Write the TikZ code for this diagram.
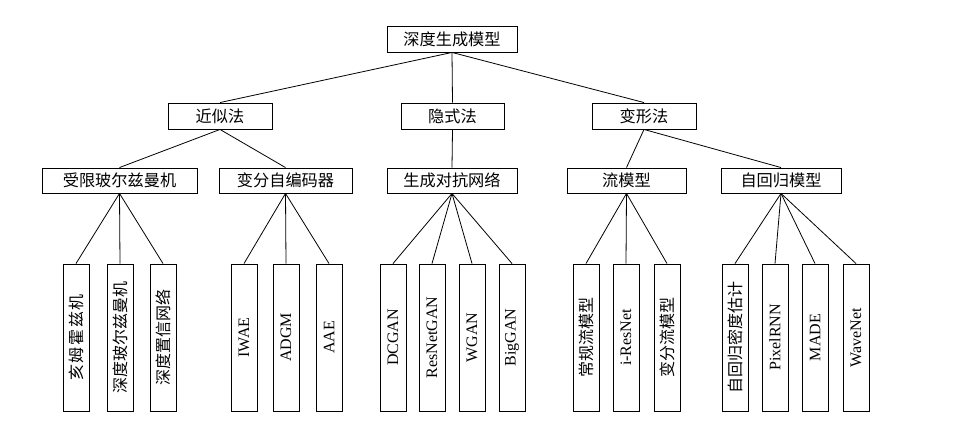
\documentclass[tikz,border=0pt]{standalone}
\usepackage{fontspec}
\setmainfont{Liberation Serif}
\newfontfamily\cjk{Noto Sans CJK SC}
\begin{document}
\begin{tikzpicture}[x=1pt,y=-1pt,
  box/.style={draw,line width=0.9pt,inner sep=0pt,minimum height=26pt,font=\cjk\fontsize{16.2}{18}\selectfont},
  midbox/.style={box,minimum height=25pt},
  leaf/.style={draw,line width=0.9pt,inner sep=0pt,minimum width=147pt,minimum height=26pt,rotate=90,font=\fontsize{16}{19}\selectfont},
  cleaf/.style={leaf,font=\cjk\fontsize{16}{18}\selectfont},
  link/.style={line width=0.8pt}]
\useasboundingbox (0,0) rectangle (969,427);
% level 1
\node[box,minimum width=130pt] (root) at (452,39) {深度生成模型};
% level 2
\node[box,minimum width=104pt] (approx) at (220,116) {近似法};
\node[box,minimum width=103pt] (implicit) at (452.5,116) {隐式法};
\node[box,minimum width=104pt] (deform) at (644,116) {变形法};
% level 3
\node[midbox,minimum width=155pt] (rbm) at (119.5,180.5) {受限玻尔兹曼机};
\node[midbox,minimum width=133pt] (vae) at (285.5,180.5) {变分自编码器};
\node[midbox,minimum width=130pt] (gan) at (452,180.5) {生成对抗网络};
\node[midbox,minimum width=119pt] (flow) at (626.5,180.5) {流模型};
\node[midbox,minimum width=120pt] (ar) at (781,180.5) {自回归模型};
% leaves
\node[cleaf] (l1) at (76,337.5) {\addfontfeature{LetterSpace=10}亥姆霍兹机};
\node[cleaf] (l2) at (120,337.5) {深度玻尔兹曼机};
\node[cleaf] (l3) at (163,337.5) {深度置信网络};
\node[leaf] (l4) at (244,337.5) {IWAE};
\node[leaf] (l5) at (286,337.5) {ADGM};
\node[leaf] (l6) at (329,337.5) {AAE};
\node[leaf] (l7) at (393,337.5) {DCGAN};
\node[leaf] (l8) at (432,337.5) {ResNetGAN};
\node[leaf] (l9) at (472,337.5) {WGAN};
\node[leaf] (l10) at (512,337.5) {BigGAN};
\node[cleaf] (l11) at (586,337.5) {常规流模型};
\node[leaf] (l12) at (626,337.5) {i-ResNet};
\node[cleaf] (l13) at (667,337.5) {变分流模型};
\node[cleaf] (l14) at (735,337.5) {自回归密度估计};
\node[leaf] (l15) at (775,337.5) {PixelRNN};
\node[leaf] (l16) at (815,337.5) {MADE};
\node[leaf] (l17) at (856,337.5) {WaveNet};
% connectors
\foreach \c in {approx,implicit,deform} \draw[link] (root.south) -- (\c.north);
\foreach \c in {rbm,vae} \draw[link] (approx.south) -- (\c.north);
\draw[link] (implicit.south) -- (gan.north);
\foreach \c in {flow,ar} \draw[link] (deform.south) -- (\c.north);
\foreach \c in {l1,l2,l3} \draw[link] (rbm.south) -- (\c.east);
\foreach \c in {l4,l5,l6} \draw[link] (vae.south) -- (\c.east);
\foreach \c in {l7,l8,l9,l10} \draw[link] (gan.south) -- (\c.east);
\foreach \c in {l11,l12,l13} \draw[link] (flow.south) -- (\c.east);
\foreach \c in {l14,l15,l16,l17} \draw[link] (ar.south) -- (\c.east);
\end{tikzpicture}
\end{document}
